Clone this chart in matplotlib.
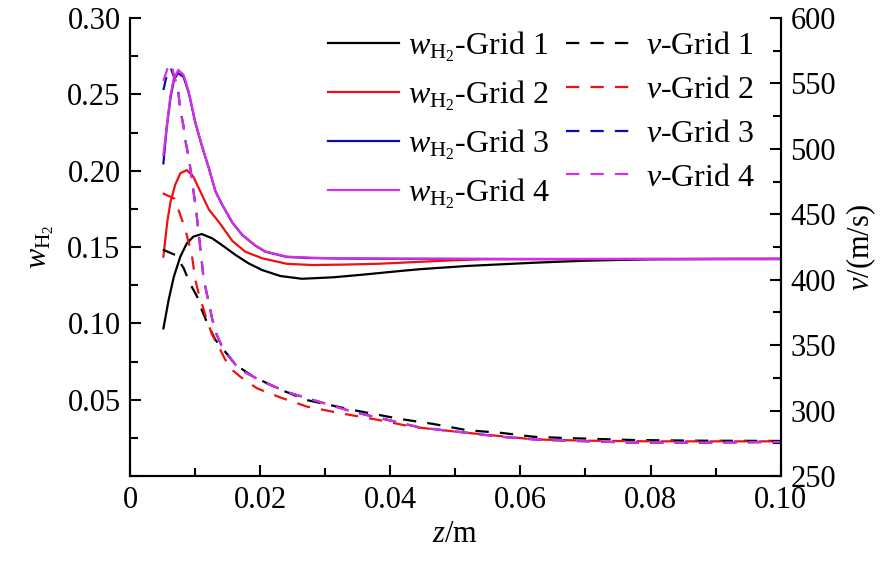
import numpy as np
import matplotlib
matplotlib.use("Agg")
import matplotlib.pyplot as plt
from matplotlib.ticker import MultipleLocator, FuncFormatter

plt.rcParams['font.family'] = ['Liberation Serif', 'DejaVu Serif']
plt.rcParams['mathtext.fontset'] = 'custom'
plt.rcParams['mathtext.rm'] = 'Liberation Serif'
plt.rcParams['mathtext.it'] = 'Liberation Serif:italic'

# mass fraction of H2 (left axis)
z_w1 = [0.0051, 0.0059, 0.0067, 0.0077, 0.0087, 0.0097, 0.0110, 0.0126, 0.0141, 0.0162,
        0.0182, 0.0203, 0.0231, 0.0264, 0.0313, 0.0360, 0.0420, 0.0446, 0.0518, 0.0620,
        0.0697, 0.0800, 0.0900, 0.1000]
w1 = [0.0967, 0.1153, 0.1305, 0.1437, 0.1524, 0.1568, 0.1585, 0.1557, 0.1513, 0.1448,
      0.1393, 0.1349, 0.1310, 0.1292, 0.1302, 0.1320, 0.1345, 0.1355, 0.1376, 0.1397,
      0.1410, 0.1420, 0.1422, 0.1423]

z_w2 = [0.0051, 0.0057, 0.0062, 0.0069, 0.0077, 0.0087, 0.0097, 0.0108, 0.0121, 0.0137,
        0.0157, 0.0177, 0.0203, 0.0241, 0.0280, 0.0330, 0.0380, 0.0415, 0.0480, 0.0540,
        0.0600, 0.0700, 0.0800, 0.0900, 0.1000]
w2 = [0.1437, 0.1666, 0.1797, 0.1906, 0.1983, 0.2004, 0.1961, 0.1862, 0.1745, 0.1660,
      0.1540, 0.1469, 0.1426, 0.1390, 0.1382, 0.1385, 0.1390, 0.1397, 0.1410, 0.1420,
      0.1421, 0.1421, 0.1422, 0.1422, 0.1422]

z_w3 = [0.0051, 0.0056, 0.0062, 0.0067, 0.0073, 0.0082, 0.0090, 0.0100, 0.0110, 0.0121,
        0.0131, 0.0141, 0.0157, 0.0172, 0.0192, 0.0208, 0.0241, 0.0277, 0.0320, 0.0400,
        0.0500, 0.0600, 0.0800, 0.1000]
w3 = [0.2048, 0.2280, 0.2480, 0.2590, 0.2640, 0.2615, 0.2510, 0.2315, 0.2165, 0.2015,
      0.1865, 0.1780, 0.1660, 0.1580, 0.1510, 0.1469, 0.1435, 0.1428, 0.1425, 0.1423,
      0.1422, 0.1421, 0.1421, 0.1421]

z_w4 = [0.0051, 0.0057, 0.0062, 0.0067, 0.0074, 0.0082, 0.0090, 0.0100, 0.0110, 0.0121,
        0.0131, 0.0141, 0.0157, 0.0172, 0.0192, 0.0208, 0.0241, 0.0277, 0.0320, 0.0400,
        0.0500, 0.0600, 0.0800, 0.1000]
w4 = [0.2103, 0.2320, 0.2496, 0.2605, 0.2660, 0.2627, 0.2517, 0.2320, 0.2168, 0.2015,
      0.1865, 0.1780, 0.1662, 0.1582, 0.1512, 0.1470, 0.1437, 0.1430, 0.1426, 0.1424,
      0.1423, 0.1422, 0.1422, 0.1422]

# velocity (right axis)
z_v1 = [0.0050, 0.0069, 0.0082, 0.0092, 0.0103, 0.0110, 0.0120, 0.0131, 0.0146, 0.0162,
        0.0189, 0.0231, 0.0272, 0.0343, 0.0415, 0.0467, 0.0518, 0.0570, 0.0620, 0.0672,
        0.0774, 0.0877, 0.1000]
v1 = [423, 419, 409, 397, 387, 377, 365, 354, 345, 335,
      326, 316, 308, 300.4, 293.6, 289.7, 285, 283, 280, 279,
      277.5, 277, 276.8]

z_v2 = [0.0050, 0.0068, 0.0077, 0.0085, 0.0090, 0.0095, 0.0100, 0.0105, 0.0113, 0.0118,
        0.0126, 0.0136, 0.0146, 0.0157, 0.0169, 0.0195, 0.0231, 0.0272, 0.0323, 0.0380,
        0.0435, 0.0518, 0.0620, 0.0700, 0.0800, 0.0900, 0.1000]
v2 = [466, 462, 449.5, 438, 428, 418, 400, 390, 377, 369,
      358, 349, 339, 331, 326, 317, 310, 303, 298, 293,
      287.5, 283, 278, 277, 276.5, 276.5, 276.5]

z_v3 = [0.0051, 0.0056, 0.0062, 0.0069, 0.0074, 0.0077, 0.0082, 0.0085, 0.0090, 0.0094,
        0.0098, 0.0102, 0.0106, 0.0110, 0.0113, 0.0121, 0.0126, 0.0133, 0.0141, 0.0154,
        0.0167, 0.0200, 0.0242, 0.0292, 0.0343, 0.0395, 0.0446, 0.0518, 0.0570, 0.0620,
        0.0670, 0.0774, 0.0877, 0.1000]
v3 = [545, 556, 562, 553, 543, 530, 517, 506, 493, 480,
      465, 450, 432, 414, 400, 382, 370, 358, 349, 340,
      332, 323, 314, 306.5, 299, 293, 287, 283, 280, 278,
      277, 275.5, 275.5, 276]

z_v4 = [0.0051, 0.0059, 0.0063, 0.0069, 0.0074, 0.0077, 0.0082, 0.0085, 0.0090, 0.0094,
        0.0098, 0.0102, 0.0106, 0.0110, 0.0113, 0.0121, 0.0126, 0.0133, 0.0141, 0.0154,
        0.0167, 0.0200, 0.0242, 0.0292, 0.0343, 0.0395, 0.0446, 0.0518, 0.0570, 0.0620,
        0.0670, 0.0774, 0.0877, 0.1000]
v4 = [552, 564, 565, 553, 543, 530, 517, 506, 493, 480,
      465, 450, 432, 414, 400, 382, 370, 358, 349, 340,
      332, 323, 314, 306.5, 299, 293, 287, 283, 280, 278,
      277, 275.5, 275.5, 276]

colors = ['black', '#f01010', '#0c0caa', '#d82ee8']
grids = ['Grid 1', 'Grid 2', 'Grid 3', 'Grid 4']

fig = plt.figure(figsize=(8.86, 5.64), dpi=100)
ax = fig.add_axes([0.147, 0.156, 0.734, 0.812])
ax2 = ax.twinx()

solid = []
for zz, ww, c, g in zip([z_w1, z_w2, z_w3, z_w4], [w1, w2, w3, w4], colors, grids):
    h, = ax.plot(zz, ww, color=c, lw=1.6, label=r'$w_{\mathrm{H_2}}$-' + g)
    solid.append(h)

dashed = []
for zz, vv, c, g in zip([z_v1, z_v2, z_v3, z_v4], [v1, v2, v3, v4], colors, grids):
    h, = ax2.plot(zz, vv, color=c, lw=1.6, dashes=(6, 5), label=r'$v$-' + g)
    dashed.append(h)

ax.set_xlim(0, 0.10)
ax.set_ylim(0, 0.30)
ax2.set_ylim(250, 600)

ax.set_xticks([0, 0.02, 0.04, 0.06, 0.08, 0.10])
ax.xaxis.set_major_formatter(FuncFormatter(lambda x, p: '0' if x == 0 else '%.2f' % x))
ax.xaxis.set_minor_locator(MultipleLocator(0.01))
ax.set_yticks([0.05, 0.10, 0.15, 0.20, 0.25, 0.30])
ax.yaxis.set_major_formatter(FuncFormatter(lambda y, p: '%.2f' % y))
ax.yaxis.set_minor_locator(MultipleLocator(0.025))
ax2.set_yticks(np.arange(250, 601, 50))
ax2.yaxis.set_minor_locator(MultipleLocator(25))

for a in (ax, ax2):
    a.spines['top'].set_visible(False)
    for s in a.spines.values():
        s.set_linewidth(1.5)
    a.tick_params(which='both', direction='in', width=1.5, labelsize=22)
    a.tick_params(which='major', length=8)
    a.tick_params(which='minor', length=6)
ax.tick_params(axis='x', pad=7)
ax.tick_params(axis='y', pad=7, right=False, which='both')
ax2.tick_params(axis='y', pad=7)

ax.set_xlabel(r'$z$/m', fontsize=22, labelpad=4)
ax.set_ylabel(r'$w_{\mathrm{H_2}}$', fontsize=22, labelpad=8)
ax2.set_ylabel(r'$v$/(m/s)', fontsize=22, labelpad=6)

ax2.legend(solid + dashed, [h.get_label() for h in solid + dashed], ncol=2,
           loc='upper right', bbox_to_anchor=(0.985, 1.01), frameon=False, fontsize=23,
           handlelength=2.2, handletextpad=0.3, columnspacing=0.5, labelspacing=0.45,
           borderaxespad=0.1)

fig.savefig('out.png', dpi=100)
